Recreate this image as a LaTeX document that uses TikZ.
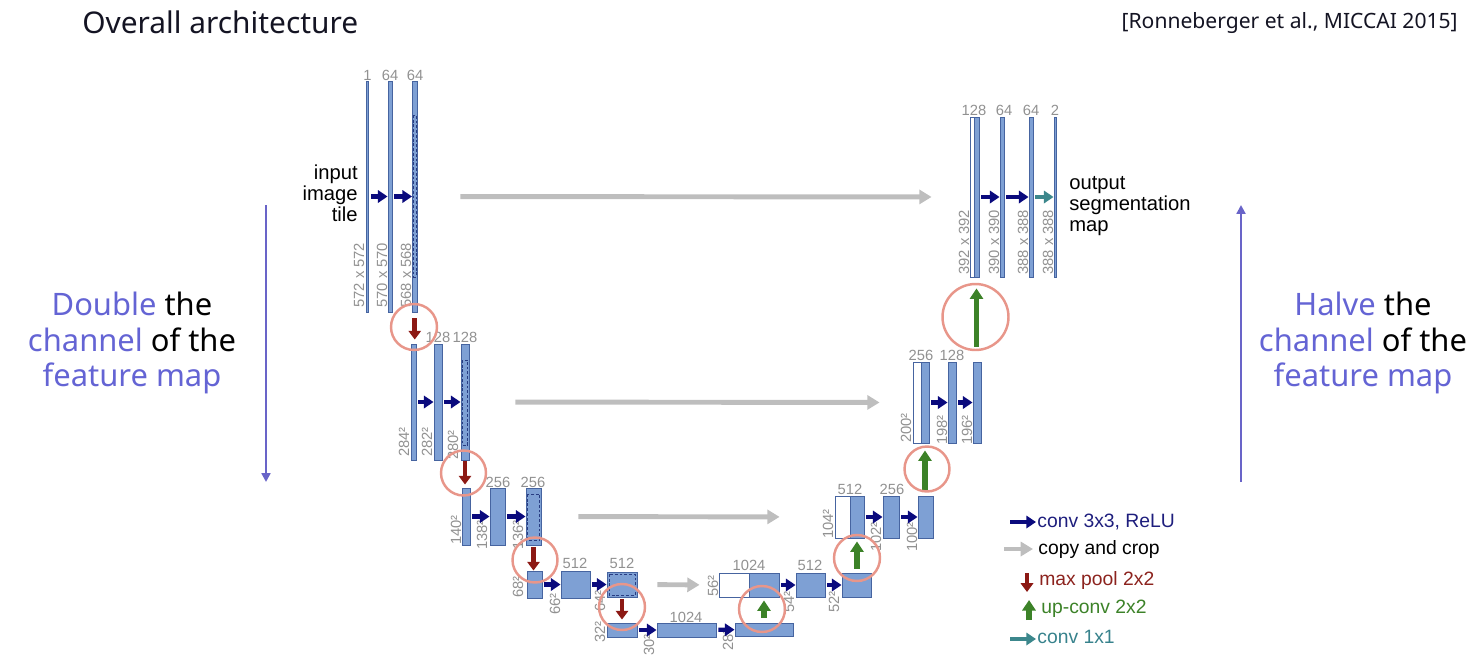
\documentclass[tikz,border=0pt]{standalone}
\usepackage{fontspec}
\setmainfont{Noto Sans}
\newfontfamily\arialf{Liberation Sans}
\usetikzlibrary{arrows.meta,fit}
\definecolor{barfill}{RGB}{126,160,212}
\definecolor{barline}{RGB}{70,100,160}
\definecolor{dashc}{RGB}{40,60,130}
\definecolor{lblgray}{RGB}{145,145,145}
\definecolor{convc}{RGB}{10,10,125}
\definecolor{copyc}{RGB}{190,190,190}
\definecolor{poolc}{RGB}{140,25,20}
\definecolor{upc}{RGB}{60,130,40}
\definecolor{tealc}{RGB}{60,135,140}
\definecolor{ringc}{RGB}{232,150,138}
\definecolor{purp}{RGB}{100,100,212}
\definecolor{purpline}{RGB}{105,100,200}
\definecolor{titlec}{RGB}{20,20,35}
\definecolor{legnavy}{RGB}{30,30,125}
\definecolor{legred}{RGB}{140,35,30}
\definecolor{leggreen}{RGB}{60,130,40}
\definecolor{legteal}{RGB}{55,130,140}
\newcommand\ubar[6][bar]{\node[#1, fit={(#3,#4)(#5,#6)}] (#2) {};}
\newcommand\toplbl[4]{\node[tlbl] (#1) at (#2,#3) {#4};}
\newcommand\rotlbl[4]{\node[rlbl] (#1) at (#2,#3) {#4};}
\tikzset{
  bar/.style={draw=barline, fill=barfill, line width=0.5pt, inner sep=0pt, rectangle},
  wbar/.style={bar, fill=white},
  dashbox/.style={draw=dashc, line width=0.45pt, dash pattern=on 1.6pt off 1.1pt},
  tlbl/.style={text=lblgray, font=\arialf\fontsize{8.4}{9}\selectfont, inner sep=0pt},
  rlbl/.style={tlbl, rotate=90, anchor=base west},
  conv/.style={-{Triangle[length=5.5pt,width=7pt]}, line width=2.4pt, draw=convc, shorten <=0.04cm},
  convone/.style={conv, draw=tealc},
  copyarr/.style={-{Triangle[length=7pt,width=8pt]}, line width=2.8pt, draw=copyc},
  pool/.style={-{Triangle[length=5pt,width=7pt]}, line width=2.6pt, draw=poolc},
  upc/.style={-{Triangle[length=6pt,width=7.5pt]}, line width=3pt, draw=upc},
  ring/.style={circle, draw=ringc, line width=1.4pt, inner sep=0pt},
  legtxt/.style={font=\arialf\fontsize{11}{13}\selectfont, anchor=west, inner sep=0pt},
  sidetxt/.style={font=\fontsize{17.6}{20.2}\selectfont, align=center, inner sep=0pt},
  sidearr/.style={-{Triangle[length=5pt,width=5pt]}, line width=1.3pt, draw=purpline},
}
\begin{document}
\begin{tikzpicture}[x=0.02cm, y=-0.02cm]
\useasboundingbox (0,0) rectangle (1474,656);
% title
\node[anchor=base west, inner sep=0pt, text=titlec, font=\fontsize{17}{19}\selectfont] (title) at (82,33) {Overall architecture};
\node[anchor=base east, inner sep=0pt, text=titlec, font=\fontsize{12}{14}\selectfont] (cite) at (1458,28) {[Ronneberger et al., MICCAI 2015]};
% side texts
\node[sidetxt] (lefttxt) at (132,343) {{\color{purp}Double} the\\{\color{purp}channel} of the\\{\color{purp}feature map}};
\node[sidetxt] (righttxt) at (1363,343) {{\color{purp}Halve} the\\{\color{purp}channel} of the\\{\color{purp}feature map}};
\coordinate (la1) at (266,205); \coordinate (la2) at (266,482);
\coordinate (ra1) at (1241,482); \coordinate (ra2) at (1241,205);
\draw[sidearr] (la1) -- (la2);
\draw[sidearr] (ra1) -- (ra2);
% ---------- rotated labels (drawn first) ----------
\rotlbl{t11}{364}{308}{572 x 572}
\rotlbl{t12}{387}{308}{570 x 570}
\rotlbl{t13}{411}{308}{568 x 568}
\rotlbl{t21}{409}{457}{284²}
\rotlbl{t22}{432}{457}{282²}
\rotlbl{t23}{458}{460}{280²}
\rotlbl{t31}{461}{545}{140²}
\rotlbl{t32}{487}{550}{138²}
\rotlbl{t33}{523}{550}{136²}
\rotlbl{t41}{523}{598}{68²}
\rotlbl{t42}{560}{615}{66²}
\rotlbl{t43}{605}{612}{64²}
\rotlbl{t51}{605}{643}{32²}
\rotlbl{t52}{654}{656}{30²}
\rotlbl{t53}{733}{651}{28²}
\rotlbl{u41}{718}{597}{56²}
\rotlbl{u42}{794}{613}{54²}
\rotlbl{u43}{839}{613}{52²}
\rotlbl{u31}{833}{539}{104²}
\rotlbl{u32}{881}{552}{102²}
\rotlbl{u33}{917}{552}{100²}
\rotlbl{u21}{911}{443}{200²}
\rotlbl{u22}{947}{445}{198²}
\rotlbl{u23}{972}{445}{196²}
\rotlbl{u11}{969}{275}{392 x 392}
\rotlbl{u12}{999}{275}{390 x 390}
\rotlbl{u13}{1028}{275}{388 x 388}
\rotlbl{u14}{1053}{275}{388 x 388}
% ---------- bars ----------
% left level 1
\ubar{l1a}{366.5}{81}{368.5}{312}
\ubar{l1b}{388}{81}{392}{312}
\ubar{l1c}{412.5}{81}{417}{312}
\draw[dashbox] (413.6,115) rectangle (415.9,277);
% left level 2
\ubar{l2a}{411}{344}{416}{460}
\ubar{l2b}{434}{344}{442}{460}
\ubar{l2c}{461}{344}{469}{460}
\draw[dashbox] (462.3,360) rectangle (467.7,445);
% left level 3
\ubar{l3a}{462}{488}{470}{545}
\ubar{l3b}{490}{488}{505}{545}
\ubar{l3c}{526}{488}{541}{545}
\draw[dashbox] (527.6,494) rectangle (539.4,540);
% left level 4
\ubar{l4a}{527}{571}{542}{598}
\ubar{l4b}{561}{571}{590}{598}
\ubar{l4c}{607}{572}{637}{597}
\draw[dashbox] (609,574) rectangle (635,595);
% bottom
\ubar{l5a}{607}{623}{637}{637}
\ubar{l5b}{657}{623}{716}{637}
\ubar{l5c}{735}{623}{793}{636}
% right level 4
\ubar[wbar]{r4w}{719}{573}{749}{597}
\ubar{r4b}{749}{573}{779}{597}
\ubar{r4c}{796}{573}{825}{597}
\ubar{r4d}{842}{573}{871}{597}
% right level 3
\ubar[wbar]{r3w}{835}{496}{850}{538}
\ubar{r3b}{850}{496}{864}{538}
\ubar{r3c}{883}{496}{899}{538}
\ubar{r3d}{918}{496}{933}{538}
% right level 2
\ubar[wbar]{r2w}{913}{362}{921}{443}
\ubar{r2b}{921}{362}{929}{443}
\ubar{r2c}{948}{362}{956}{443}
\ubar{r2d}{973}{362}{981}{443}
% right level 1
\ubar[wbar]{r1w}{970.5}{117}{974}{277}
\ubar{r1b}{974}{117}{979}{277}
\ubar{r1c}{1000}{117}{1004}{277}
\ubar{r1d}{1029}{117}{1033}{277}
\ubar{r1e}{1054}{117}{1056}{277}
% ---------- top labels ----------
\toplbl{n11}{367.5}{75}{1}
\toplbl{n12}{390}{75}{64}
\toplbl{n13}{415}{75}{64}
\toplbl{n22}{438}{337}{128}
\toplbl{n23}{465}{337}{128}
\toplbl{n32}{498}{482}{256}
\toplbl{n33}{533}{482}{256}
\toplbl{n42}{575}{563}{512}
\toplbl{n43}{622}{563}{512}
\toplbl{n52}{686}{617}{1024}
\toplbl{m41}{749}{565}{1024}
\toplbl{m42}{810}{565}{512}
\toplbl{m31}{850}{489}{512}
\toplbl{m32}{892}{489}{256}
\toplbl{m21}{921}{355}{256}
\toplbl{m22}{952}{355}{128}
\toplbl{m11}{974}{110}{128}
\toplbl{m12}{1004}{110}{64}
\toplbl{m13}{1031}{110}{64}
\toplbl{m14}{1055}{110}{2}
% ---------- conv arrows ----------
\draw[conv] (l1a) -- (l1b); \draw[conv] (l1b) -- (l1c);
\draw[conv] (l2a) -- (l2b); \draw[conv] (l2b) -- (l2c);
\draw[conv] (l3a) -- (l3b); \draw[conv] (l3b) -- (l3c);
\draw[conv] (l4a) -- (l4b); \draw[conv] (l4b) -- (l4c);
\draw[conv] (l5a) -- (l5b); \draw[conv] (l5b) -- (l5c);
\draw[conv] (r4b) -- (r4c); \draw[conv] (r4c) -- (r4d);
\draw[conv] (r3b) -- (r3c); \draw[conv] (r3c) -- (r3d);
\draw[conv] (r2b) -- (r2c); \draw[conv] (r2c) -- (r2d);
\draw[conv] (r1b) -- (r1c); \draw[conv] (r1c) -- (r1d);
\draw[convone] (r1d) -- (r1e);
% ---------- copy and crop ----------
\draw[copyarr, shorten <=0.86cm, shorten >=0.77cm] (l1c) -- (r1w);
\draw[copyarr, shorten <=0.92cm, shorten >=0.66cm] (l2c) -- (r2w);
\draw[copyarr, shorten <=0.74cm, shorten >=1.10cm] (l3c) -- (r3w);
\draw[copyarr, shorten <=0.40cm, shorten >=0.38cm] (l4c) -- (r4w);
% ---------- max pool ----------
\draw[pool, shorten <=0.12cm, shorten >=0.08cm] (l1c.south) -- (l1c.south |- l2a.north);
\draw[pool, shorten <=0.02cm, shorten >=0.06cm] (l2c.south) -- (l2c.south |- l3a.north);
\draw[pool, shorten <=0.04cm, shorten >=0.0cm] (l3c.south) -- (l3c.south |- l4a.north);
\draw[pool, shorten <=0.04cm, shorten >=0.06cm] (l4c.south) -- (l4c.south |- l5a.north);
% ---------- up-conv ----------
\draw[upc, shorten <=0.10cm, shorten >=0.06cm] (r4b.south |- l5c.north) -- (r4b.south);
\draw[upc, shorten <=0.08cm, shorten >=0.06cm] (r3b.south |- r4d.north) -- (r3b.south);
\draw[upc, shorten <=0.12cm, shorten >=0.14cm] (r2b.south |- r3d.north) -- (r2b.south);
\draw[upc, shorten <=0.30cm, shorten >=0.22cm] (r1b.south |- r2d.north) -- (r1b.south);
% ---------- rings ----------
\node[ring, minimum size=0.92cm] (p1) at (414,327) {};
\node[ring, minimum size=0.90cm] (p2) at (463.5,473) {};
\node[ring, minimum size=0.90cm] (p3) at (535,560) {};
\node[ring, minimum size=0.92cm] (p4) at (622,607) {};
\node[ring, minimum size=0.92cm] (q5) at (762,609) {};
\node[ring, minimum size=0.92cm] (q4) at (857,558) {};
\node[ring, minimum size=0.90cm] (q3) at (927,469) {};
\node[ring, minimum size=1.32cm] (q2) at (975.5,317) {};
% ---------- side texts for in/out ----------
\node[anchor=east, align=right, inner sep=0pt, font=\arialf\fontsize{11.5}{12}\selectfont] (inp) at (358,193) {input\\image\\tile};
\node[anchor=west, align=left, inner sep=0pt, font=\arialf\fontsize{11.5}{12}\selectfont] (outp) at (1069,206) {output\\segmentation\\map};
% ---------- legend ----------
\coordinate (g1a) at (1010,522); \coordinate (g1b) at (1036,522);
\coordinate (g2a) at (1004,549); \coordinate (g2b) at (1033,549);
\coordinate (g3a) at (1027,573); \coordinate (g3b) at (1027,592);
\coordinate (g4a) at (1029,620); \coordinate (g4b) at (1029,600);
\coordinate (g5a) at (1010,639); \coordinate (g5b) at (1036,639);
\draw[conv, shorten <=0pt] (g1a) -- (g1b);
\draw[copyarr] (g2a) -- (g2b);
\draw[pool] (g3a) -- (g3b);
\draw[upc] (g4a) -- (g4b);
\draw[convone, shorten <=0pt] (g5a) -- (g5b);
\node[legtxt, text=legnavy] (lg1) at (1037,522) {conv 3x3, ReLU};
\node[legtxt, text=black] (lg2) at (1038,549) {copy and crop};
\node[legtxt, text=legred] (lg3) at (1039,580) {max pool 2x2};
\node[legtxt, text=leggreen] (lg4) at (1041,609) {up-conv 2x2};
\node[legtxt, text=legteal] (lg5) at (1037,637) {conv 1x1};
\end{tikzpicture}
\end{document}
